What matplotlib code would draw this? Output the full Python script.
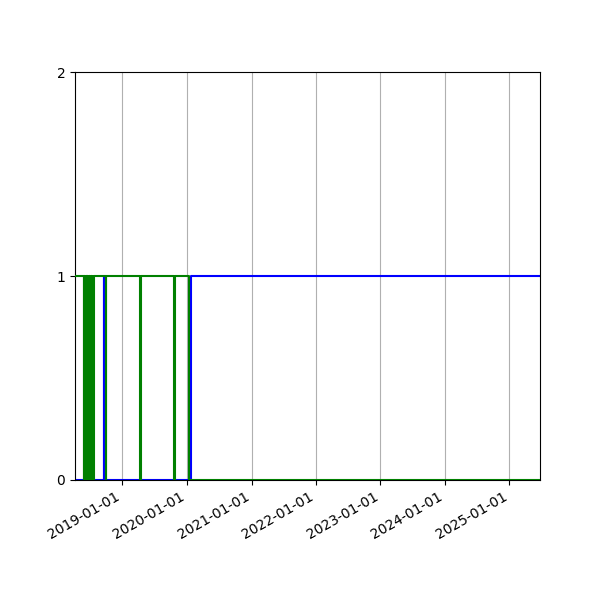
import matplotlib
matplotlib.use("Agg")
import matplotlib.pyplot as plt
import matplotlib.dates as mdates
import pandas as pd

plt.rcParams['path.simplify'] = False

# Green series (state 0/1, step changes)
green_dates = ['2018-04-07',
               '2018-05-28', '2018-05-30', '2018-06-01', '2018-06-03',
               '2018-06-05', '2018-06-07', '2018-06-09', '2018-06-11',
               '2018-06-17', '2018-06-19', '2018-06-21', '2018-06-23',
               '2018-06-25', '2018-06-27', '2018-06-29', '2018-07-01',
               '2018-07-03', '2018-07-05', '2018-07-07', '2018-07-09',
               '2018-07-11', '2018-07-13', '2018-07-15', '2018-07-17',
               '2018-07-19', '2018-07-21', '2018-09-27', '2018-10-01',
               '2019-04-12', '2019-04-16', '2019-10-21', '2019-10-25',
               '2020-01-12', '2025-06-23']
green_values = [1,
                0, 1, 0, 1,
                0, 1, 0, 1,
                0, 1, 0, 1,
                0, 1, 0, 1,
                0, 1, 0, 1,
                0, 1, 0, 1,
                0, 1, 0, 1,
                0, 1, 0, 1,
                0, 0]

# Blue series
blue_dates = ['2018-04-07', '2018-06-14', '2018-06-15', '2018-09-20', '2018-09-21',
              '2020-01-25', '2025-06-23']
blue_values = [0, 1, 0, 1, 0, 1, 1]

y_ticks = [0, 1, 2]
x_start, x_end = '2018-04-07', '2025-06-23'

gd = pd.to_datetime(green_dates)
bd = pd.to_datetime(blue_dates)

fig, ax = plt.subplots(figsize=(6, 6), dpi=100)
ax.step(bd, blue_values, where='post', color='blue', linewidth=1.5, zorder=2)
ax.step(gd, green_values, where='post', color='green', linewidth=1.5, zorder=3)

ax.set_xlim(pd.Timestamp(x_start), pd.Timestamp(x_end))
ax.set_ylim(0, 2)
ax.set_yticks(y_ticks)
ax.xaxis.set_major_locator(mdates.YearLocator())
ax.xaxis.set_major_formatter(mdates.DateFormatter('%Y-%m-%d'))
ax.grid(True, axis='x')
fig.autofmt_xdate()
fig.savefig('out.png', dpi=100)
